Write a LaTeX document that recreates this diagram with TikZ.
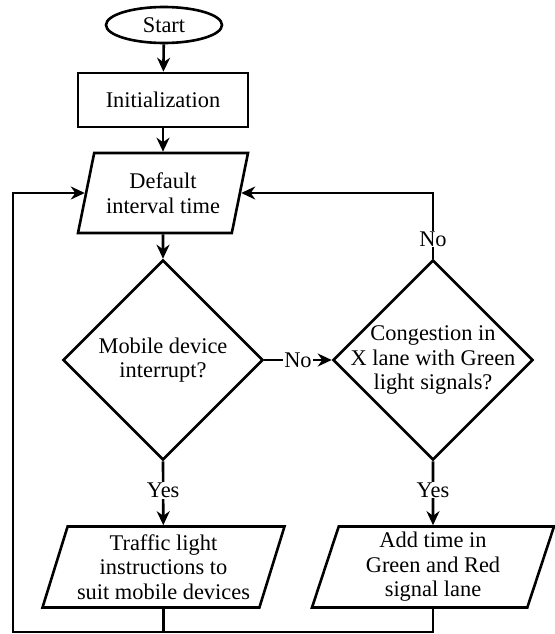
\documentclass[tikz,border=0pt]{standalone}
\usepackage{fontspec}
\setmainfont{Liberation Serif}
\usepackage{tikz}
\usetikzlibrary{arrows.meta, shapes.geometric, positioning}
\tikzset{>={Stealth[length=14pt,width=13pt]}}
\tikzset{
  startstop/.style={draw, ellipse, minimum width=116pt, minimum height=36pt, inner sep=0pt},
  process/.style={draw, rectangle, minimum width=170pt, minimum height=54pt},
  io/.style={draw, trapezium, trapezium left angle=70, trapezium right angle=110,
    trapezium stretches body=true, align=center, inner sep=2pt},
  decision/.style={draw, diamond, minimum width=200pt, minimum height=200pt, inner sep=0pt},
  dtext/.style={align=center, inner sep=0pt},
  lbl/.style={fill=white, inner sep=1pt}
}

\begin{document}
\begin{tikzpicture}[x=1pt, y=-1pt, line width=2.6pt, font=\fontsize{22.4}{24.5}\selectfont]
    \useasboundingbox (0,0) rectangle (554,634);
    \node[startstop](start) at (164,25){Start};
    \node[process](init) at (163,100){Initialization};
    \node[io, minimum width=170pt, minimum height=80pt](deft) at (163,193){Default\\interval time};
    \node[decision](mobq) at (163,360){};
    \node[dtext](mobqt) at (mobq){Mobile device\\interrupt?};
    \node[decision](congq) at (433,360){};
    \node[dtext](congqt) at (congq){Congestion in\\X lane with Green\\light signals?};
    \node[io, minimum width=242pt, minimum height=81pt](mobio) at (163.5,567){Traffic light\\instructions to\\suit mobile devices};
    \node[io, minimum width=242pt, minimum height=81pt](addio) at (433,567){Add time in\\Green and Red\\signal lane};
    \coordinate (loop) at (13,632);

    \draw[->](start)--(init);
    \draw[->](init)--(deft);
    \draw[->](deft)--(mobq);
    \draw[->](mobq.east)--node[lbl]{No}(congq.west);
    \draw[->](mobq.south)--node[lbl, pos=0.45]{Yes}(mobio);
    \draw[->](congq.south)--node[lbl, pos=0.45]{Yes}(addio);
    \draw[->](congq.north)--node[lbl, pos=0.3]{No}(congq.north |- deft.east)--(deft.east);
    \draw[->](mobio.south)|-(loop)|-(deft.west);
    \draw(addio.south)|-(mobio.south |- loop);
\end{tikzpicture}
\end{document}
